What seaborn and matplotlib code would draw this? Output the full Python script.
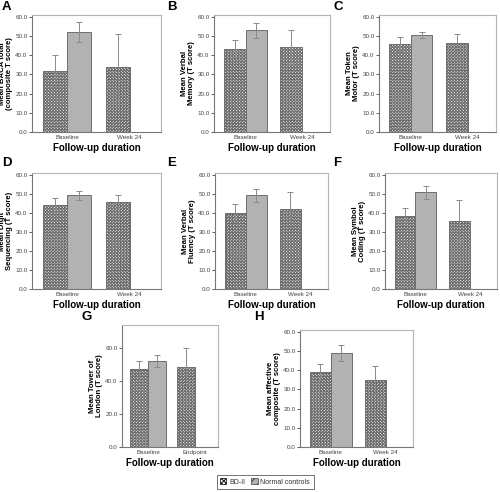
import pandas as pd
import matplotlib
matplotlib.use("Agg")
import matplotlib.pyplot as plt
import matplotlib.patches as mpatches
import seaborn as sns

# ---------------- data ----------------
groups = ["BD-II", "Normal controls"]
panel_letters = ["A", "B", "C", "D", "E", "F", "G", "H"]
ylabels = [
    "Mean BACA total\n(composite T score)",
    "Mean Verbal\nMemory (T score)",
    "Mean Token\nMotor (T score)",
    "Mean Digit\nSequencing (T score)",
    "Mean Verbal\nFluency (T score)",
    "Mean Symbol\nCoding (T score)",
    "Mean Tower of\nLondon (T score)",
    "Mean affective\ncomposite (T score)",
]
timepoints = [
    ["Baseline", "Week 24"], ["Baseline", "Week 24"], ["Baseline", "Week 24"],
    ["Baseline", "Week 24"], ["Baseline", "Week 24"], ["Baseline", "Week 24"],
    ["Baseline", "Endpoint"], ["Baseline", "Week 24"],
]
# BD-II: baseline, follow-up ; controls: baseline only
bd_mean = [[32.0, 34.0], [43.5, 44.5], [46.0, 46.5], [44.2, 46.0],
           [40.0, 42.0], [38.2, 36.0], [47.2, 48.6], [39.0, 35.0]]
bd_low = [[24.0, 16.5], [39.0, 35.5], [42.3, 42.0], [40.5, 42.5],
          [35.2, 32.5], [33.8, 25.0], [42.2, 37.0], [35.0, 28.0]]
bd_high = [[40.0, 51.3], [47.8, 53.2], [49.6, 51.2], [47.6, 49.4],
           [44.5, 51.0], [42.7, 46.8], [52.3, 60.3], [43.2, 42.0]]
nc_mean = [52.0, 53.0, 50.4, 49.2, 49.3, 50.9, 52.2, 49.1]
nc_low = [46.8, 49.0, 48.8, 46.8, 46.0, 47.2, 48.6, 44.6]
nc_high = [57.2, 57.0, 52.1, 51.3, 52.6, 54.4, 55.8, 53.4]
yticks_list = [[0, 10, 20, 30, 40, 50, 60]] * 6 + [[0, 20, 40, 60], [0, 10, 20, 30, 40, 50, 60]]
ytops = [61, 61, 61, 61, 61, 61, 74, 61]

# ---------------- layout (pixels: left, top, right, bottom) ----------------
W, H = 500, 492
boxes = [(32, 15, 161, 132), (214, 15, 330, 132), (379, 15, 496, 132),
         (32, 173, 161, 289), (215, 173, 328, 289), (385, 173, 497, 289),
         (122, 325, 218, 447), (300, 330, 413, 447)]
letter_pos = [(2, 1), (167, 1), (333, 1), (2, 157), (167, 157), (333, 157),
              (82, 311), (254, 311)]

FONT = "Liberation Sans"
plt.rcParams["font.family"] = FONT
plt.rcParams["hatch.linewidth"] = 0.8
plt.rcParams["hatch.color"] = "#111111"

BD_FACE = "white"
BD_HATCH = "x" * 11
NC_FACE = "#b2b2b2"
EDGE = "#6e6e6e"


def rect(b):
    l, t, r, btm = b
    return [l / W, 1 - btm / H, (r - l) / W, (btm - t) / H]


fig = plt.figure(figsize=(5.0, 4.92), dpi=100)

for i in range(8):
    ax = fig.add_axes(rect(boxes[i]))
    cats = timepoints[i]
    df = pd.DataFrame({
        "time": [cats[0], cats[1], cats[0]],
        "group": [groups[0], groups[0], groups[1]],
        "score": [bd_mean[i][0], bd_mean[i][1], nc_mean[i]],
    })
    sns.barplot(data=df, x="time", y="score", hue="group", order=cats,
                hue_order=groups, errorbar=None, width=0.76, ax=ax,
                palette=[BD_FACE, NC_FACE], edgecolor=EDGE, linewidth=0.7,
                legend=False)

    lows = [bd_low[i], [nc_low[i]]]
    highs = [bd_high[i], [nc_high[i]]]
    bar_conts = list(ax.containers)
    for g, cont in enumerate(bar_conts):
        for k, bar in enumerate(cont):
            if g == 0:
                bar.set_hatch(BD_HATCH)
            cx = bar.get_x() + bar.get_width() / 2
            h = bar.get_height()
            ax.errorbar(cx, h, yerr=[[h - lows[g][k]], [highs[g][k] - h]],
                        fmt="none", ecolor="#8a8a8a", elinewidth=0.7,
                        capsize=2.2, capthick=0.7, zorder=5)

    ax.set_xlim(-0.56, 1.5)
    ax.set_ylim(0, ytops[i])
    ax.set_yticks(yticks_list[i])
    ax.set_yticklabels([f"{v:.1f}" for v in yticks_list[i]])
    ax.tick_params(axis="both", labelsize=4.5, colors="#444444", length=2,
                   width=0.6, pad=1.2)
    ax.tick_params(axis="x", length=0, pad=2)
    for s in ax.spines.values():
        s.set_color("#b5b5b5")
        s.set_linewidth(0.8)
    ax.spines["left"].set_color("#777777")
    ax.spines["bottom"].set_color("#777777")
    ax.set_xlabel("Follow-up duration", fontsize=7, fontweight="bold", labelpad=2)
    ax.set_ylabel(ylabels[i], fontsize=5.6, fontweight="bold", labelpad=1.5,
                  linespacing=0.95)

    lx, ly = letter_pos[i]
    fig.text(lx / W, 1 - ly / H, panel_letters[i], fontsize=9.5,
             fontweight="bold", va="top", ha="left")

handles = [mpatches.Patch(facecolor=BD_FACE, edgecolor="#222222", hatch="xxxxxxx",
                          linewidth=0.6, label=groups[0]),
           mpatches.Patch(facecolor=NC_FACE, edgecolor="#555555", hatch="////",
                          linewidth=0.6, label=groups[1])]
leg = fig.legend(handles=handles, loc="center", ncol=2,
                 bbox_to_anchor=(265 / W, 1 - 482 / H), fontsize=5,
                 frameon=True, fancybox=False, edgecolor="#333333",
                 handlelength=0.9, handleheight=0.9, handletextpad=0.4,
                 columnspacing=0.9, borderpad=0.5)
leg.get_frame().set_linewidth(0.6)
for t in leg.get_texts():
    t.set_color("#333333")

fig.savefig("out.png", dpi=100)
